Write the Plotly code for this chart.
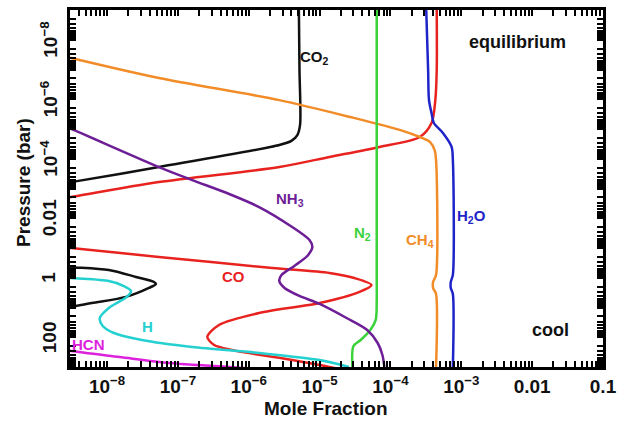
import math
import plotly.graph_objects as go

# ---------------- data (mole fraction, pressure in bar) ----------------
co2_up_x = [5.1e-6, 5.2e-6, 5.3e-6, 4.85e-6, 4.0e-6, 2.7e-6, 5.4e-8, 3.1e-9, 2.0e-9]
co2_up_p = [1e-9, 1e-7, 7.3e-6, 1.6e-5, 2.5e-5, 3.45e-5, 1.9e-4, 6.1e-4, 7.2e-4]
co2_lo_x = [2.0e-9, 3.1e-9, 1.06e-8, 2.56e-8, 4.6e-8, 4.9e-8, 3.9e-8, 1.85e-8, 6.1e-9, 3.1e-9, 2.0e-9]
co2_lo_p = [0.40, 0.44, 0.55, 0.94, 1.39, 1.62, 2.2, 4.4, 7.1, 9.6, 11.0]

co_up_x = [4.5e-4, 4.5e-4, 4.3e-4, 3.8e-4, 2.6e-4, 7.0e-5, 1.38e-5, 2.7e-6, 5.4e-8, 3.1e-9, 2.0e-9]
co_up_p = [1e-9, 1e-7, 1.07e-6, 6.3e-6, 1.86e-5, 4.0e-5, 8.7e-5, 1.9e-4, 6.1e-4, 1.93e-3, 2.3e-3]
co_lo_x = [2.0e-9, 3.1e-9, 5.4e-8, 2.15e-6, 1.38e-5, 3.1e-5, 5.4e-5, 3.66e-5, 1.0e-5, 1.4e-6,
           3.8e-7, 2.6e-7, 3.25e-7, 5.8e-7, 4.1e-6, 1.0e-5, 1.9e-5]
co_lo_p = [0.09, 0.10, 0.20, 0.47, 0.69, 1.02, 1.75, 3.0, 7.1, 15.3,
           38.7, 98, 182, 268, 582, 857, 1166]

ch4_x = [2.1e-9, 3.1e-9, 5.4e-8, 2.7e-6, 2.7e-5, 1.35e-4, 2.6e-4, 3.6e-4, 4.2e-4, 4.4e-4,
         4.4e-4, 4.0e-4, 4.0e-4, 4.4e-4, 4.4e-4]
ch4_p = [3.26e-8, 4.1e-8, 1.93e-7, 1.07e-6, 3.95e-6, 1.07e-5, 1.86e-5, 2.7e-5, 5.1e-5, 1.1e-4,
         0.81, 1.39, 2.2, 3.5, 1000]

n2_x = [6.4e-5, 6.4e-5, 6.4e-5, 6.2e-5, 5.2e-5, 3.8e-5, 3.0e-5, 2.9e-5]
n2_p = [1e-9, 1.0, 5.6, 26, 57, 124, 200, 1000]

h2o_x = [3.2e-4, 3.4e-4, 3.5e-4, 3.8e-4, 4.1e-4, 5.5e-4, 7.3e-4, 7.6e-4, 7.6e-4, 7.1e-4,
         7.1e-4, 7.6e-4, 7.6e-4]
h2o_p = [1e-9, 1e-7, 1.07e-6, 2.9e-6, 6.3e-6, 1.36e-5, 4.0e-5, 1.1e-4, 0.8, 1.4,
         2.2, 3.5, 1000]

nh3_x = [2.1e-9, 2.9e-9, 5.4e-8, 1.59e-7, 5.3e-7, 1.4e-6, 4.1e-6, 7.2e-6, 7.9e-6, 6.7e-6,
         4.4e-6, 2.9e-6, 2.7e-6, 3.2e-6, 5.2e-6, 1.0e-5, 2.4e-5, 4.7e-5, 6.6e-5, 7.7e-5, 8.2e-5]
nh3_p = [6.8e-6, 9.2e-6, 1.9e-4, 5.2e-4, 1.53e-3, 4.2e-3, 0.0197, 0.054, 0.092, 0.186,
         0.40, 0.81, 1.29, 2.2, 4.1, 7.6, 22.5, 57, 156, 395, 1000]

h_x = [2.5e-9, 3.1e-9, 1.06e-8, 1.73e-8, 2.18e-8, 1.9e-8, 1.06e-8, 7.9e-9, 8.7e-9, 1.25e-8,
       3.1e-8, 1.59e-7, 1.4e-6, 1.0e-5, 2.6e-5]
h_p = [0.94, 1.02, 1.29, 1.9, 2.8, 4.4, 10.4, 22.5, 42, 72,
       124, 213, 338, 582, 1000]

hcn_x = [2.1e-9, 3.1e-9, 1.5e-8, 7.5e-8, 5.3e-7, 1.4e-6]
hcn_p = [248, 290, 461, 734, 1000, 1166]

# tick labels
x_label_vals = [1e-8, 1e-7, 1e-6, 1e-5, 1e-4, 1e-3, 0.01, 0.1]
x_label_text = ["10<sup>−8</sup>", "10<sup>−7</sup>", "10<sup>−6</sup>", "10<sup>−5</sup>",
                "10<sup>−4</sup>", "10<sup>−3</sup>", "0.01", "0.1"]
y_label_vals = [1e-8, 1e-6, 1e-4, 0.01, 1, 100]
y_label_text = ["10<sup>−8</sup>", "10<sup>−6</sup>", "10<sup>−4</sup>", "0.01", "1", "100"]

# ---------------- figure ----------------
FONT = "Liberation Sans, Arial, sans-serif"
COL = dict(co2="#111111", co="#e8231f", ch4="#f28c28", n2="#3ad23a", h2o="#1f24c8",
           nh3="#6d1e96", h="#25d0d0", hcn="#dd22dd")

fig = go.Figure()


def add(xs, ps, color):
    fig.add_trace(go.Scatter(x=xs, y=ps, mode="lines",
                             line=dict(color=color, width=2.5, shape="spline", smoothing=0.8),
                             hoverinfo="skip", showlegend=False))


add(co2_up_x, co2_up_p, COL["co2"])
add(co2_lo_x, co2_lo_p, COL["co2"])
add(co_up_x, co_up_p, COL["co"])
add(co_lo_x, co_lo_p, COL["co"])
add(ch4_x, ch4_p, COL["ch4"])
add(n2_x, n2_p, COL["n2"])
add(h2o_x, h2o_p, COL["h2o"])
add(nh3_x, nh3_p, COL["nh3"])
add(h_x, h_p, COL["h"])
add(hcn_x, hcn_p, COL["hcn"])

L, R, T, B = 70, 14, 10, 69
W, H = 617, 436
PW, PH = W - L - R, H - T - B


def px(xp):
    return (xp - L) / PW


def py(yp):
    return (H - B - yp) / PH


labels = [
    ("CO<sub>2</sub>", 314, 58, COL["co2"], 15),
    ("NH<sub>3</sub>", 290, 199, COL["nh3"], 15),
    ("CO", 233, 276, COL["co"], 15),
    ("N<sub>2</sub>", 362, 233, COL["n2"], 15),
    ("CH<sub>4</sub>", 420, 241, COL["ch4"], 15),
    ("H<sub>2</sub>O", 471, 217, COL["h2o"], 15),
    ("H", 147, 326, COL["h"], 15),
    ("HCN", 88, 344, COL["hcn"], 15),
    ("equilibrium", 517, 42, "#111111", 18),
    ("cool", 550, 330, "#111111", 18),
]
for txt, xx, yy, c, s in labels:
    fig.add_annotation(x=px(xx), y=py(yy), xref="paper", yref="paper", text=txt,
                       showarrow=False, xanchor="center", yanchor="middle",
                       font=dict(family=FONT, size=s, color=c, weight="bold"))

tfont = dict(family=FONT, size=19, color="#111111", weight="bold")

# rotated y tick labels, placed through the y axis' own (log) scale
for v, txt in zip(y_label_vals, y_label_text):
    fig.add_annotation(x=px(49), y=math.log10(v), xref="paper", yref="y", text=txt,
                       showarrow=False, xanchor="center", yanchor="middle", textangle=-90,
                       font=tfont)

# axis titles
fig.add_annotation(x=px(326), y=py(408), xref="paper", yref="paper", text="Mole Fraction",
                   showarrow=False, xanchor="center", yanchor="middle",
                   font=dict(family=FONT, size=19, color="#111111", weight="bold"))
fig.add_annotation(x=px(23), y=py(183), xref="paper", yref="paper", text="Pressure (bar)",
                   showarrow=False, xanchor="center", yanchor="middle", textangle=-90,
                   font=dict(family=FONT, size=19, color="#111111", weight="bold"))

# all log ticks (1..9 x each decade); x labels only on the chosen decades
x_all = [m * 10.0 ** e for e in range(-9, -1) for m in range(1, 10)] + [0.1]
y_all = [m * 10.0 ** e for e in range(-9, 3) for m in range(1, 10)] + [1000]
x_all_text = [x_label_text[x_label_vals.index(v)] if v in x_label_vals else "" for v in x_all]

XR = [-8.523, -1]
YR = [3, -9]
common = dict(showline=True, linecolor="black", linewidth=2.5, mirror="allticks",
              ticks="inside", tickcolor="black", showgrid=False, zeroline=False,
              ticklen=6, tickwidth=1.6, tickfont=tfont, automargin=False)

fig.update_layout(
    xaxis=dict(type="log", range=XR, tickmode="array", tickvals=x_all, ticktext=x_all_text,
               tickangle=0, **common),
    yaxis=dict(type="log", range=YR, tickmode="array", tickvals=y_all,
               ticktext=[" "] * len(y_all), **common),
)

fig.update_layout(width=W, height=H, margin=dict(l=L, r=R, t=T, b=B, autoexpand=False),
                  paper_bgcolor="white", plot_bgcolor="white", showlegend=False)

fig.write_html("out.html")
